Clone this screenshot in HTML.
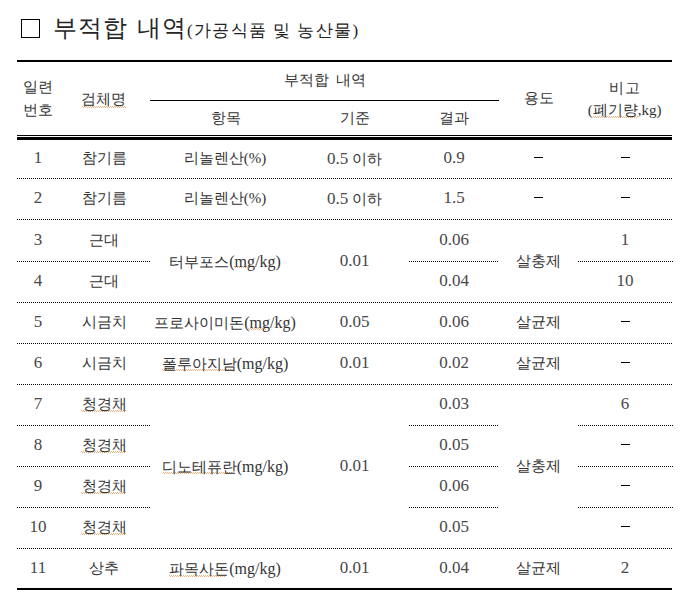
<!DOCTYPE html>
<html><head><meta charset="utf-8"><style>
html,body{margin:0;padding:0;background:#fff;}
body{width:697px;height:614px;position:relative;overflow:hidden;font-family:"Liberation Serif",serif;color:#000;}
.t{position:absolute;width:200px;text-align:center;font-size:15px;line-height:15px;white-space:nowrap;color:#333;}
.t.d{font-size:17px;line-height:17px;color:#484848;}
.dg{font-size:17px;line-height:15px;color:#484848;}
.mk{font-size:16px;line-height:15px;}
.solid{position:absolute;background:#000;}
.dot{position:absolute;background:repeating-linear-gradient(to right,#000 0,#000 1px,transparent 1px,transparent 2px);}
.wv{position:absolute;height:2px;opacity:.6;background:repeating-linear-gradient(to right,#d9822b 0,#d9822b 1px,transparent 1px,transparent 2px) 0 0/100% 1px no-repeat,repeating-linear-gradient(to right,transparent 0,transparent 1px,#d9822b 1px,#d9822b 2px) 0 1px/100% 1px no-repeat;}
.dash{position:absolute;width:9px;height:1px;background:#000;}
.box{position:absolute;left:21px;top:19px;width:17px;height:17px;border:1px solid #000;}
.title{position:absolute;left:53px;top:16px;font-size:24px;line-height:24px;letter-spacing:1px;word-spacing:2px;white-space:nowrap;color:#262626;}
.sub{position:absolute;left:187px;top:22px;font-size:17px;line-height:18px;letter-spacing:1.4px;white-space:nowrap;color:#222;}
</style></head><body>
<div class="box"></div>
<div class="title">부적합 내역</div>
<div class="sub">(가공식품 및 농산물)</div>
<div class="solid" style="left:17px;top:60px;width:655px;height:2px"></div>
<div class="solid" style="left:150px;top:100px;width:349px;height:1px"></div>
<div class="solid" style="left:17px;top:135px;width:655px;height:1px"></div>
<div class="solid" style="left:17px;top:137px;width:655px;height:3px"></div>
<div class="solid" style="left:17px;top:588px;width:655px;height:2px"></div>
<div class="dot" style="left:17px;top:178px;width:656px;height:1px"></div>
<div class="dot" style="left:17px;top:219px;width:656px;height:1px"></div>
<div class="dot" style="left:17px;top:261px;width:133px;height:1px"></div>
<div class="dot" style="left:409px;top:261px;width:90px;height:1px"></div>
<div class="dot" style="left:578px;top:261px;width:95px;height:1px"></div>
<div class="dot" style="left:17px;top:302px;width:656px;height:1px"></div>
<div class="dot" style="left:17px;top:343px;width:656px;height:1px"></div>
<div class="dot" style="left:17px;top:384px;width:656px;height:1px"></div>
<div class="dot" style="left:17px;top:425px;width:133px;height:1px"></div>
<div class="dot" style="left:409px;top:425px;width:90px;height:1px"></div>
<div class="dot" style="left:578px;top:425px;width:95px;height:1px"></div>
<div class="dot" style="left:17px;top:466px;width:133px;height:1px"></div>
<div class="dot" style="left:409px;top:466px;width:90px;height:1px"></div>
<div class="dot" style="left:578px;top:466px;width:95px;height:1px"></div>
<div class="dot" style="left:17px;top:507px;width:133px;height:1px"></div>
<div class="dot" style="left:409px;top:507px;width:90px;height:1px"></div>
<div class="dot" style="left:578px;top:507px;width:95px;height:1px"></div>
<div class="dot" style="left:17px;top:548px;width:656px;height:1px"></div>
<div class="wv" style="left:82px;top:106px;width:44px"></div>
<div class="wv" style="left:593px;top:116px;width:45px"></div>
<div class="wv" style="left:81px;top:410px;width:45px"></div>
<div class="wv" style="left:81px;top:451px;width:45px"></div>
<div class="wv" style="left:81px;top:492px;width:45px"></div>
<div class="wv" style="left:81px;top:533px;width:45px"></div>
<div class="wv" style="left:162px;top:369px;width:70px"></div>
<div class="wv" style="left:163px;top:472px;width:70px"></div>
<div class="wv" style="left:169px;top:575px;width:57px"></div>
<div class="wv" style="left:248px;top:328px;width:18px"></div>
<div class="wv" style="left:234px;top:266px;width:16px"></div>
<div class="t d" style="left:-62.0px;top:149px">1</div>
<div class="t" style="left:4.0px;top:151.0px;">참기름</div>
<div class="t" style="left:125.0px;top:151.0px;">리놀렌산(%)</div>
<div class="t" style="left:254.5px;top:151.0px;"><span class="dg">0.5</span> 이하</div>
<div class="t d" style="left:354.0px;top:149px">0.9</div>
<div class="dash" style="left:534.0px;top:157px"></div>
<div class="dash" style="left:620.5px;top:157px"></div>
<div class="t d" style="left:-62.0px;top:189px">2</div>
<div class="t" style="left:4.0px;top:191.0px;">참기름</div>
<div class="t" style="left:125.0px;top:191.0px;">리놀렌산(%)</div>
<div class="t" style="left:254.5px;top:191.0px;"><span class="dg">0.5</span> 이하</div>
<div class="t d" style="left:354.0px;top:189px">1.5</div>
<div class="dash" style="left:534.0px;top:197px"></div>
<div class="dash" style="left:620.5px;top:197px"></div>
<div class="t d" style="left:-62.0px;top:231px">3</div>
<div class="t" style="left:4.0px;top:232.5px;">근대</div>
<div class="t d" style="left:354.0px;top:231px">0.06</div>
<div class="t d" style="left:525.0px;top:231px">1</div>
<div class="t d" style="left:-62.0px;top:272px">4</div>
<div class="t" style="left:4.0px;top:274.0px;">근대</div>
<div class="t d" style="left:354.0px;top:272px">0.04</div>
<div class="t d" style="left:525.0px;top:272px">10</div>
<div class="t d" style="left:-62.0px;top:313px">5</div>
<div class="t" style="left:4.0px;top:315.0px;">시금치</div>
<div class="t" style="left:125.0px;top:315.0px;">프로사이미돈<span class="mk">(mg/kg)</span></div>
<div class="t d" style="left:254.5px;top:313px">0.05</div>
<div class="t d" style="left:354.0px;top:313px">0.06</div>
<div class="t" style="left:438.5px;top:315.0px;">살균제</div>
<div class="dash" style="left:620.5px;top:321px"></div>
<div class="t d" style="left:-62.0px;top:354px">6</div>
<div class="t" style="left:4.0px;top:356.0px;">시금치</div>
<div class="t" style="left:125.0px;top:356.0px;">폴루아지남<span class="mk">(mg/kg)</span></div>
<div class="t d" style="left:254.5px;top:354px">0.01</div>
<div class="t d" style="left:354.0px;top:354px">0.02</div>
<div class="t" style="left:438.5px;top:356.0px;">살균제</div>
<div class="dash" style="left:620.5px;top:362px"></div>
<div class="t d" style="left:-62.0px;top:395px">7</div>
<div class="t" style="left:4.0px;top:397.0px;">청경채</div>
<div class="t d" style="left:354.0px;top:395px">0.03</div>
<div class="t d" style="left:525.0px;top:395px">6</div>
<div class="t d" style="left:-62.0px;top:436px">8</div>
<div class="t" style="left:4.0px;top:438.0px;">청경채</div>
<div class="t d" style="left:354.0px;top:436px">0.05</div>
<div class="dash" style="left:620.5px;top:444px"></div>
<div class="t d" style="left:-62.0px;top:477px">9</div>
<div class="t" style="left:4.0px;top:479.0px;">청경채</div>
<div class="t d" style="left:354.0px;top:477px">0.06</div>
<div class="dash" style="left:620.5px;top:485px"></div>
<div class="t d" style="left:-62.0px;top:518px">10</div>
<div class="t" style="left:4.0px;top:520.0px;">청경채</div>
<div class="t d" style="left:354.0px;top:518px">0.05</div>
<div class="dash" style="left:620.5px;top:526px"></div>
<div class="t d" style="left:-62.0px;top:559px">11</div>
<div class="t" style="left:4.0px;top:560.5px;">상추</div>
<div class="t" style="left:125.0px;top:560.5px;">파목사돈<span class="mk">(mg/kg)</span></div>
<div class="t d" style="left:254.5px;top:559px">0.01</div>
<div class="t d" style="left:354.0px;top:559px">0.04</div>
<div class="t" style="left:438.5px;top:560.5px;">살균제</div>
<div class="t d" style="left:525.0px;top:559px">2</div>
<div class="t" style="left:125.0px;top:253.5px;">터부포스<span class="mk">(mg/kg)</span></div>
<div class="t d" style="left:254.5px;top:252px">0.01</div>
<div class="t" style="left:438.5px;top:253.5px;">살충제</div>
<div class="t" style="left:125.0px;top:459.0px;">디노테퓨란<span class="mk">(mg/kg)</span></div>
<div class="t d" style="left:254.5px;top:457px">0.01</div>
<div class="t" style="left:438.5px;top:459.0px;">살충제</div>
<div class="t" style="left:-61.6px;top:80.1px;">일련</div>
<div class="t" style="left:-61.6px;top:102.9px;">번호</div>
<div class="t" style="left:3.0px;top:91.5px;">검체명</div>
<div class="t" style="left:225.1px;top:73.2px;word-spacing:3px;">부적합 내역</div>
<div class="t" style="left:125.5px;top:111.0px;">항목</div>
<div class="t" style="left:255.0px;top:111.0px;">기준</div>
<div class="t" style="left:354.2px;top:111.0px;">결과</div>
<div class="t" style="left:438.8px;top:91.0px;">용도</div>
<div class="t" style="left:525.2px;top:81.1px;letter-spacing:1px">비고</div>
<div class="t" style="left:524.6px;top:103.3px;">(폐기량,kg)</div>
</body></html>
